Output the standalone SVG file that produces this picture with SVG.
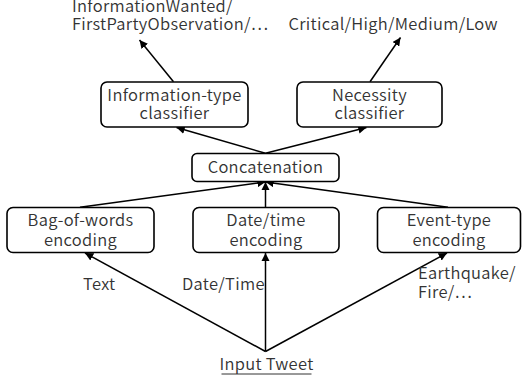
<svg xmlns="http://www.w3.org/2000/svg" width="524" height="385" viewBox="0 0 524 385">
<style>
text{font-family:"Noto Sans CJK JP","Noto Sans",sans-serif;font-size:16.5px;font-weight:350;letter-spacing:0.3px;fill:#333}
.c{text-anchor:middle}
rect{fill:#fff;stroke:#000;stroke-width:1.6}
.e line{stroke:#000;stroke-width:1.5;marker-end:url(#ah)}
</style>
<defs>
<marker id="ah" viewBox="0 0 10 10" refX="10" refY="5" markerWidth="5.5" markerHeight="5.5" orient="auto" markerUnits="strokeWidth">
<path d="M0,0 L10,5 L0,10 z" fill="#000"/>
</marker>
</defs>
<rect x="0" y="0" width="524" height="385" style="fill:#fff;stroke:none"/>
<g class="e" id="connectors">
<line x1="173.5" y1="81.7" x2="139.5" y2="40"/>
<line x1="370" y1="81.7" x2="400.5" y2="37.5"/>
<line x1="265.5" y1="153.3" x2="176.5" y2="127.5"/>
<line x1="265.5" y1="153.3" x2="366.5" y2="127.5"/>
<line x1="80" y1="207.3" x2="265.5" y2="182"/>
<line x1="265.5" y1="207.3" x2="265.5" y2="182"/>
<line x1="448" y1="207.3" x2="265.5" y2="182"/>
<line x1="265.5" y1="351.5" x2="85" y2="253"/>
<line x1="265.5" y1="351.5" x2="265.5" y2="253"/>
<line x1="265.5" y1="351.5" x2="447" y2="253"/>
</g>
<g id="info">
<rect x="101" y="82" width="147" height="45" rx="6"/>
<text class="c" x="174.5" y="100.5">Information-type</text>
<text class="c" x="174.5" y="119">classifier</text>
</g>
<g id="necessity">
<rect x="297" y="82" width="145" height="45" rx="6"/>
<text class="c" x="369.5" y="100.5">Necessity</text>
<text class="c" x="369.5" y="119">classifier</text>
</g>
<g id="concat">
<rect x="192" y="153.5" width="147" height="28" rx="5"/>
<text class="c" x="265.5" y="173">Concatenation</text>
</g>
<g id="bow">
<rect x="7" y="207.5" width="147" height="45" rx="6"/>
<text class="c" x="80.5" y="226">Bag-of-words</text>
<text class="c" x="80.5" y="245.5">encoding</text>
</g>
<g id="datetime">
<rect x="193" y="207.5" width="146" height="45" rx="6"/>
<text class="c" x="266" y="226">Date/time</text>
<text class="c" x="266" y="245.5">encoding</text>
</g>
<g id="eventtype">
<rect x="377.5" y="207.5" width="143" height="45" rx="6"/>
<text class="c" x="449" y="226">Event-type</text>
<text class="c" x="449" y="245.5">encoding</text>
</g>
<g id="labels">
<text x="72" y="11.5">InformationWanted/</text>
<text x="72" y="30">FirstPartyObservation/…</text>
<text x="288.5" y="30">Critical/High/Medium/Low</text>
<text x="83" y="289.5">Text</text>
<text x="182" y="289.5">Date/Time</text>
<text x="418" y="279">Earthquake/</text>
<text x="418" y="297.5">Fire/…</text>
</g>
<g id="input">
<text class="c" x="266.5" y="369.5">Input Tweet</text>
<line x1="221.5" y1="374" x2="311.5" y2="374" stroke="#333" stroke-width="1"/>
</g>
</svg>
